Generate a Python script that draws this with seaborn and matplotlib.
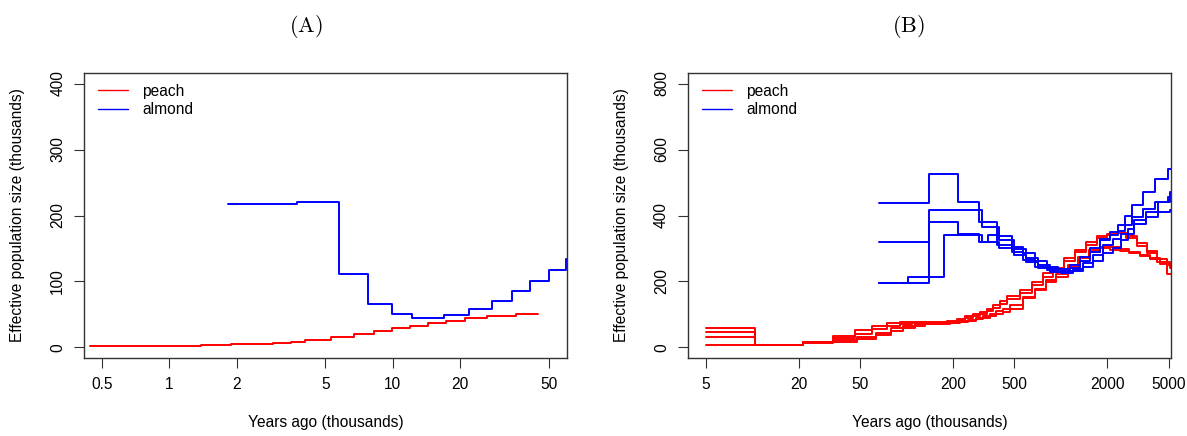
import matplotlib
matplotlib.use("Agg")
import matplotlib.pyplot as plt
from matplotlib.lines import Line2D
from matplotlib.ticker import NullLocator
import pandas as pd
import seaborn as sns

# ---- panel A: single PSMC curve per species (years in thousands, Ne in thousands)
a_peach_x = [0.44, 0.90, 1.38, 1.88, 2.38, 2.92, 3.49, 4.06, 5.31, 6.68, 8.25,
             9.96, 12.0, 14.4, 17.3, 21.0, 26.4, 35.5, 44.7]
a_peach_y = [1.5, 2.5, 3.5, 4.5, 5.6, 7, 9, 11.6, 16.2, 20.2, 25.3,
             29.8, 32.8, 36.9, 40.4, 44.4, 47.5, 51, 51]
a_almond_x = [1.84, 3.74, 5.73, 7.75, 9.89, 12.2, 16.9, 22.0, 27.8, 34.2,
              41.3, 49.9, 59.8, 70]
a_almond_y = [216.7, 220.7, 111.6, 66.2, 50, 45, 49, 58.6, 70.7, 85.4,
              101, 117.7, 134.8, 134.8]

# ---- panel B: bootstrap runs
peach_t1 = [5, 10.4, 21.5, 33.5, 46.5, 60, 75, 91, 108, 126, 150, 182, 212, 240,
            271, 300, 331, 366, 404, 446, 545, 649, 764, 895, 1055, 1237, 1456,
            1709, 1983, 2300, 2650, 3100, 3600, 4180, 4850, 5600]
peach_t2 = [5, 10.4, 21.5, 33.5, 48, 63, 79, 95, 113, 132, 157, 190, 222, 251,
            284, 314, 347, 383, 423, 467, 571, 680, 800, 937, 1105, 1295, 1525,
            1790, 2077, 2410, 2775, 3245, 3770, 4380, 5080, 5600]
peach_run1 = [58, 8, 17, 36, 52, 66, 74, 76, 77, 76, 76, 79, 86,
              95, 101, 108, 118, 128, 140, 155, 175, 199, 225, 242, 270, 295,
              320, 338, 345, 348, 338, 318, 292, 268, 250, 250]
peach_run2 = [46, 7, 15, 22, 33, 45, 58, 65, 70, 72, 74, 77, 80,
              84, 89, 95, 102, 110, 118, 130, 152, 178, 205, 222, 250, 275,
              295, 305, 305, 298, 290, 280, 268, 254, 240, 240]
peach_run3 = [32, 6, 13, 18, 26, 38, 50, 58, 64, 70, 72, 75, 77,
              81, 86, 90, 95, 101, 108, 118, 149, 174, 199, 214, 244, 270,
              290, 300, 295, 292, 286, 278, 270, 258, 246, 246]
peach_run4 = [8, 7, 16, 28, 42, 56, 66, 72, 75, 75, 75, 78, 82,
              88, 94, 101, 110, 120, 132, 146, 166, 190, 215, 235, 262, 290,
              312, 332, 342, 346, 332, 308, 285, 260, 224, 224]

almond_t1 = [297, 385, 481, 572, 680, 811, 964, 1148, 1332, 1547, 1797, 2084,
             2360, 2610, 2880, 3430, 4080, 4930, 5600]
almond_t2 = [310, 400, 500, 596, 708, 845, 1004, 1196, 1388, 1612, 1872, 2171,
             2459, 2719, 3000, 3573, 4250, 5135, 5600]
almond_run1_x = [66.4, 139, 215] + almond_t1
almond_run1_y = [438, 526, 442, 381, 337, 305, 285, 262, 245, 238, 250, 275,
                 300, 325, 350, 372, 400, 431, 472, 510, 540, 540]
almond_run2_x = [66.4, 139] + almond_t2
almond_run2_y = [320, 416, 366, 325, 298, 272, 250, 238, 232, 238, 255, 280,
                 310, 330, 345, 360, 385, 410, 440, 470, 470]
almond_run3_x = [66.4, 139, 215, 297, 339] + almond_t1[1:]
almond_run3_y = [196, 381, 343, 320, 340, 310, 288, 265, 245, 234, 228, 240,
                 262, 290, 330, 340, 352, 370, 395, 420, 440, 455, 455]
almond_run4_x = [66.4, 102, 176] + almond_t2
almond_run4_y = [196, 214, 340, 320, 300, 280, 258, 240, 230, 226, 232, 245,
                 262, 285, 300, 325, 345, 375, 395, 410, 418, 418]

COLORS = {"peach": "red", "almond": "blue"}
FONT = ["Liberation Sans", "DejaVu Sans"]


def long_frame(runs):
    rows = []
    for species, run, xs, ys in runs:
        for x, y in zip(xs, ys):
            rows.append({"years": x, "ne": y, "species": species, "run": run})
    return pd.DataFrame(rows)


df_a = long_frame([
    ("peach", "p0", a_peach_x, a_peach_y),
    ("almond", "a0", a_almond_x, a_almond_y),
])
df_b = long_frame([
    ("peach", "p1", peach_t1, peach_run1),
    ("peach", "p2", peach_t2, peach_run2),
    ("peach", "p3", peach_t2, peach_run3),
    ("peach", "p4", peach_t1, peach_run4),
    ("almond", "a1", almond_run1_x, almond_run1_y),
    ("almond", "a2", almond_run2_x, almond_run2_y),
    ("almond", "a3", almond_run3_x, almond_run3_y),
    ("almond", "a4", almond_run4_x, almond_run4_y),
])

sns.set_style("ticks")
plt.rcParams["font.family"] = FONT
plt.rcParams["mathtext.fontset"] = "cm"
plt.rcParams["text.color"] = "black"
plt.rcParams["axes.labelcolor"] = "black"

fig = plt.figure(figsize=(11.87, 4.36), dpi=100)
ax_a = fig.add_axes([84 / 1187, 78 / 436, 483 / 1187, 285 / 436])
ax_b = fig.add_axes([687.7 / 1187, 78 / 436, 483.6 / 1187, 285 / 436])


def style_axes(ax, xlim, ylim, xticks, xlabels, yticks):
    ax.set_xscale("log")
    ax.set_xlim(*xlim)
    ax.set_ylim(*ylim)
    ax.set_xticks(xticks)
    ax.set_xticklabels(xlabels)
    ax.xaxis.set_minor_locator(NullLocator())
    ax.set_yticks(yticks)
    ax.set_yticklabels([str(v) for v in yticks], rotation=90, va="center")
    ax.tick_params(axis="both", length=7, width=0.8, color="#333333",
                   labelsize=11.2, pad=6.5, labelcolor="black")
    for sp in ax.spines.values():
        sp.set_visible(True)
        sp.set_linewidth(1.0)
        sp.set_color("#333333")
    ax.set_xlabel("Years ago (thousands)", fontsize=11.2, color="black")
    ax.set_ylabel("Effective population size (thousands)", fontsize=11.2,
                  color="black")
    ax.xaxis.set_label_coords(0.5, -0.2)
    ax.yaxis.set_label_coords(-0.122, 0.5)
    handles = [Line2D([], [], color=COLORS[s], lw=1.0) for s in ("peach", "almond")]
    leg = ax.legend(handles, ["peach", "almond"], loc="upper left",
                    bbox_to_anchor=(0.0296, 0.962), borderaxespad=0, borderpad=0,
                    frameon=False, fontsize=11.2, handlelength=1.9,
                    handletextpad=0.92, labelspacing=0.22)
    for t in leg.get_texts():
        t.set_color("black")


for ax, df in ((ax_a, df_a), (ax_b, df_b)):
    sns.lineplot(data=df, x="years", y="ne", hue="species", units="run",
                 estimator=None, sort=False, palette=COLORS, legend=False,
                 drawstyle="steps-post", linewidth=1.4, ax=ax)

style_axes(ax_a, (0.415, 60.3), (-16, 416),
           [0.5, 1, 2, 5, 10, 20, 50], ["0.5", "1", "2", "5", "10", "20", "50"],
           [0, 100, 200, 300, 400])
style_axes(ax_b, (3.82, 5200), (-32, 832),
           [5, 20, 50, 200, 500, 2000, 5000],
           ["5", "20", "50", "200", "500", "2000", "5000"],
           [0, 200, 400, 600, 800])

fig.text(305.5 / 1187, 1 - 27 / 436, r"$\mathrm{(A)}$", ha="center", va="center",
         fontsize=16)
fig.text(908 / 1187, 1 - 27 / 436, r"$\mathrm{(B)}$", ha="center", va="center",
         fontsize=16)

fig.savefig("out.png", dpi=100)
